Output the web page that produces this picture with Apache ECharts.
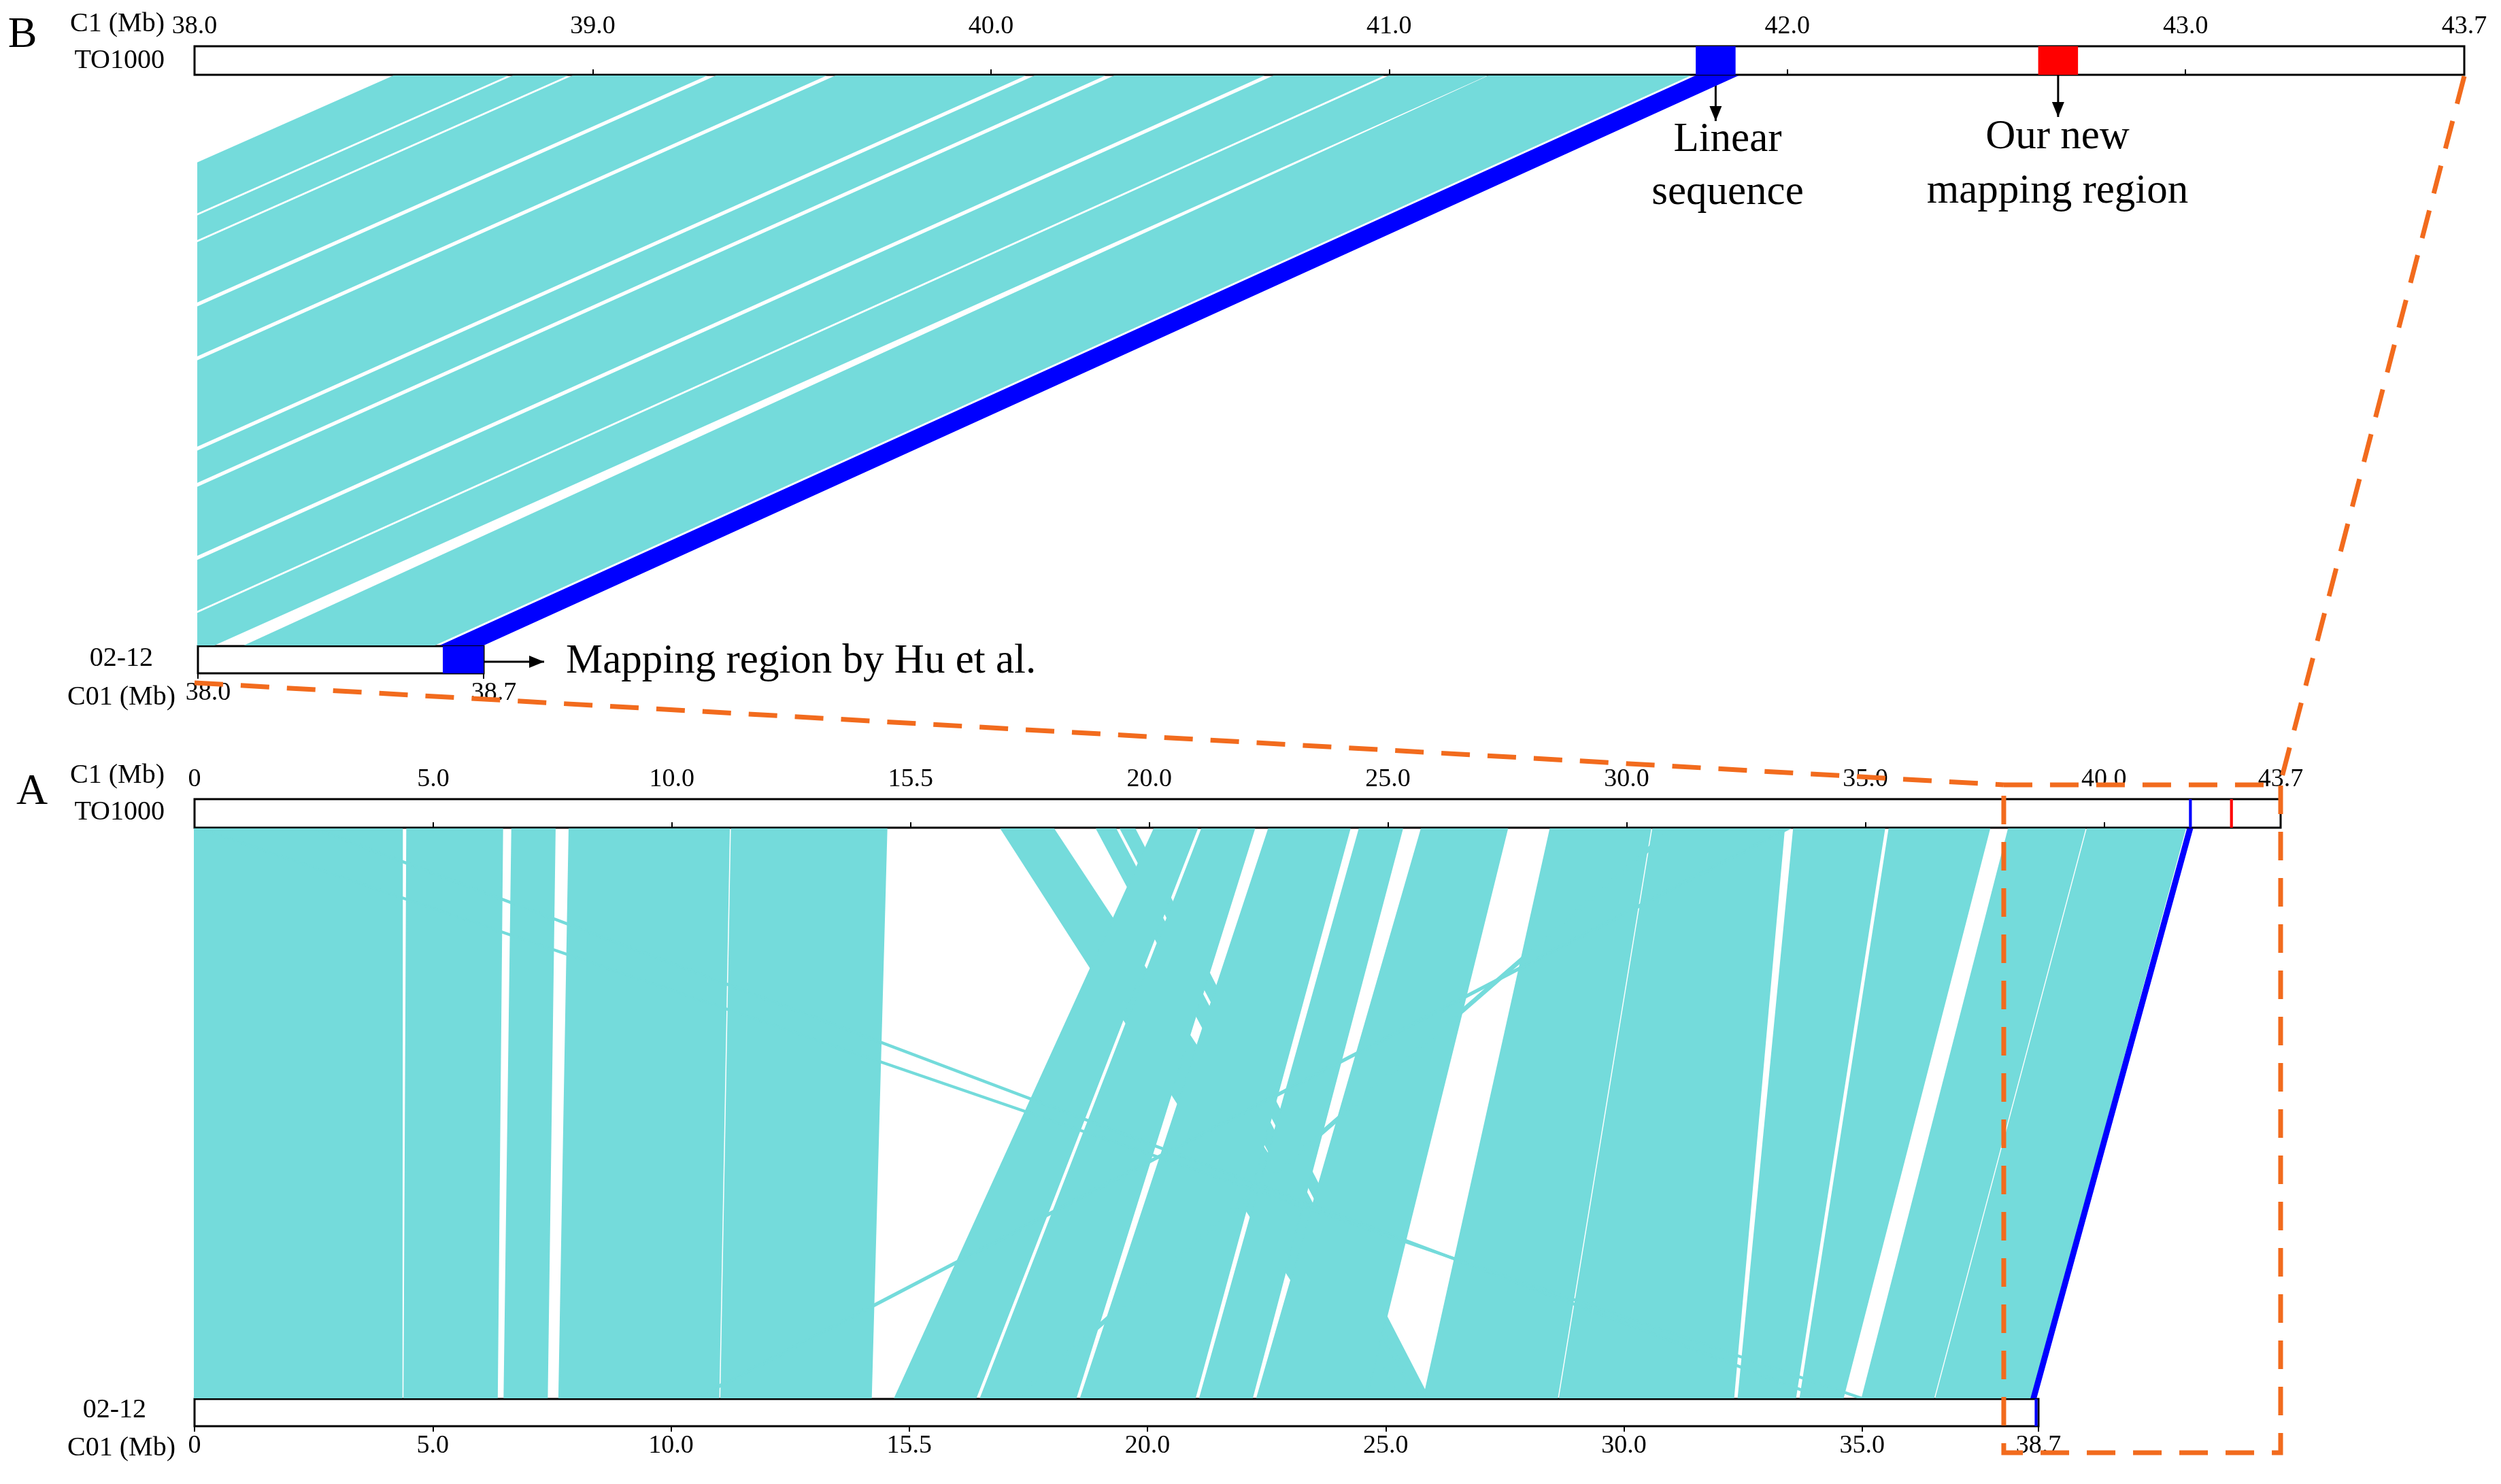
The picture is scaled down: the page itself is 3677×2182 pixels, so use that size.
<!DOCTYPE html>
<html><head><meta charset="utf-8">
<script src="https://cdn.jsdelivr.net/npm/echarts@6/dist/echarts.min.js"></script>
<style>html,body{margin:0;padding:0;background:#fff}#main{width:3677px;height:2182px}</style>
</head><body><div id="main"></div>
<script>
var myChart = echarts.init(document.getElementById('main'));
var FONT = 'Liberation Serif';
var CYAN = '#74dbdb', BLUE = '#0000ff', RED = '#ff0000', ORANGE = '#f26b1d';

// panel B links: [top start, top end, bottom start, bottom end] (Mb)
var linksB = [
  [38.50,38.78,35.33,35.61],[38.80,38.93,35.63,35.76],[38.95,39.28,35.78,36.11],
  [39.31,39.58,36.14,36.41],[39.61,40.08,36.44,36.91],[40.11,40.28,36.94,37.11],
  [40.31,40.68,37.14,37.51],[40.71,40.98,37.54,37.81],[41.00,41.24,37.83,38.04],
  [41.25,41.75,38.12,38.58]
];
// panel A links
var linksA = [
  [0,4.35,0,4.35],[4.45,6.45,4.4,6.35],[6.65,7.55,6.5,7.4],[7.85,11.2,7.65,11.0],
  [11.25,14.5,11.05,14.2],
  [16.9,18.0,24.6,25.9],[18.9,19.3,25.3,25.6],[19.4,19.7,25.7,25.9],
  [20.1,21.0,14.7,16.4],[21.1,22.2,16.5,18.5],[22.5,24.2,18.6,21.0],[24.4,25.3,21.1,22.2],
  [25.7,27.5,22.3,24.6],[28.4,30.5,25.8,28.6],[30.55,33.3,28.65,32.3],
  [33.5,35.4,32.4,33.6],[35.5,37.6,33.7,34.6],[38.0,39.6,35.0,36.5],[39.65,41.7,36.55,38.55],
  [2.5,2.6,34.1,34.2],[0.1,0.2,34.9,35.0],[33.3,33.4,10.5,10.6],[30.9,31.0,17.2,17.3]
];
var blueA = [41.75,41.85,38.55,38.65];
var blueB = [41.77,41.87,38.60,38.70];

function barAxis(grid, min, max, pos, labels) {
  return {
    type: 'value', gridIndex: grid, min: min, max: max, position: pos,
    axisLine: {show: false}, splitLine: {show: false},
    axisTick: {show: true, length: 8, customValues: labels, lineStyle: {color: '#000', width: 2}},
    axisLabel: {
      customValues: labels, fontFamily: FONT, fontSize: 38, color: '#000', margin: 10,
      formatter: function (v) { return v === 0 ? '0' : (v === 15 ? '15.5' : v.toFixed(1)); }
    }
  };
}
function gridOf(l, t, w, h) {
  return {left: l, top: t, width: w, height: h, show: true, backgroundColor: '#fff', borderColor: '#000', borderWidth: 3};
}
function marks(grid, arr) {
  return {
    type: 'custom', xAxisIndex: grid, yAxisIndex: grid, z: 5, data: arr,
    renderItem: function (params, api) {
      var p1 = api.coord([api.value(0), 1]), p2 = api.coord([api.value(1), 0]);
      return {type: 'rect', shape: {x: p1[0], y: p1[1], width: p2[0] - p1[0], height: p2[1] - p1[1]},
        style: {fill: api.value(2) === 1 ? RED : BLUE}};
    }
  };
}

var axB1 = barAxis(1, 38, 38.7, 'bottom', [38, 38.7]);
axB1.axisLabel.padding = [0, 0, 0, 30];
var option = {
  backgroundColor: '#fff',
  animation: false,
  grid: [gridOf(286, 68, 3337, 42), gridOf(291, 950, 420, 40), gridOf(286, 1175, 3067, 42), gridOf(286, 2057, 2711, 40)],
  xAxis: [
    barAxis(0, 38, 43.7, 'top', [38, 39, 40, 41, 42, 43, 43.7]),
    axB1,
    barAxis(2, 0, 43.7, 'top', [0, 5, 10, 15, 20, 25, 30, 35, 40, 43.7]),
    barAxis(3, 0, 38.7, 'bottom', [0, 5, 10, 15, 20, 25, 30, 35, 38.7])
  ],
  yAxis: [0, 1, 2, 3].map(function (i) { return {type: 'value', gridIndex: i, min: 0, max: 1, show: false}; }),
  series: [
    marks(0, [[41.77, 41.87, 0], [42.63, 42.73, 1]]),
    marks(1, [[38.60, 38.70, 0]]),
    marks(2, [[41.78, 41.84, 0], [42.64, 42.70, 1]]),
    marks(3, [[38.62, 38.68, 0]])
  ]
};
myChart.setOption(option);

// links between two bars, through the axes of the chart
function px(grid, v) { return myChart.convertToPixel({xAxisIndex: grid}, v); }
var gr = option.grid;
function clipLeft(pts, x0) {
  var out = [];
  for (var i = 0; i < pts.length; i++) {
    var a = pts[i], b = pts[(i + 1) % pts.length];
    var ain = a[0] >= x0, bin = b[0] >= x0;
    if (ain) out.push(a);
    if (ain !== bin) {
      var t = (x0 - a[0]) / (b[0] - a[0]);
      out.push([x0, a[1] + t * (b[1] - a[1])]);
    }
  }
  return out;
}
function linkSeries(top, bot, arr, color, clip) {
  var yT = gr[top].top + gr[top].height + 2, yB = gr[bot].top - 2;
  return {
    type: 'custom', coordinateSystem: 'none', z: 2, data: arr,
    renderItem: function (params, api) {
      var d = arr[params.dataIndex];
      var pts = [[px(top, d[0]), yT], [px(top, d[1]), yT], [px(bot, d[3]), yB], [px(bot, d[2]), yB]];
      if (clip) pts = clipLeft(pts, gr[bot].left);
      return {type: 'polygon', shape: {points: pts}, style: {fill: color, stroke: color, lineWidth: 2}};
    }
  };
}
var a0 = px(2, 37.9), a1 = px(2, 43.7);
var dash = {stroke: ORANGE, lineWidth: 7, lineDash: [42, 26]};
function txt(x, y, s, size, align) {
  return {type: 'text', x: x, y: y, style: {text: s, fontFamily: FONT, fontSize: size, fill: '#000', align: align || 'right', verticalAlign: 'middle'}};
}
function arrow(x1, y1, x2, y2) {
  var ang = Math.atan2(y2 - y1, x2 - x1), L = 22, W = 9;
  return [
    {type: 'line', shape: {x1: x1, y1: y1, x2: x2, y2: y2}, style: {stroke: '#000', lineWidth: 3}},
    {type: 'polygon', shape: {points: [[x2, y2],
      [x2 - L * Math.cos(ang) + W * Math.sin(ang), y2 - L * Math.sin(ang) - W * Math.cos(ang)],
      [x2 - L * Math.cos(ang) - W * Math.sin(ang), y2 - L * Math.sin(ang) + W * Math.cos(ang)]]}, style: {fill: '#000'}}
  ];
}
var xLin = px(0, 41.82), xNew = px(0, 42.68);
myChart.setOption({
  series: option.series.concat([
    linkSeries(0, 1, linksB, CYAN, true),
    linkSeries(0, 1, [blueB], BLUE, false),
    linkSeries(2, 3, linksA, CYAN, false),
    linkSeries(2, 3, [blueA], BLUE, false)
  ]),
  graphic: [
    txt(33, 52, 'B', 64, 'center'), txt(47, 1165, 'A', 64, 'center'),
    txt(242, 35, 'C1 (Mb)', 40), txt(242, 89, 'TO1000', 40),
    txt(225, 968, '02-12', 40), txt(258, 1025, 'C01 (Mb)', 40),
    txt(242, 1140, 'C1 (Mb)', 40), txt(242, 1194, 'TO1000', 40),
    txt(215, 2073, '02-12', 40), txt(258, 2129, 'C01 (Mb)', 40),
    txt(2540, 206, 'Linear', 61, 'center'), txt(2540, 284, 'sequence', 61, 'center'),
    txt(3025, 202, 'Our new', 61, 'center'), txt(3025, 282, 'mapping region', 61, 'center'),
    txt(832, 973, 'Mapping region by Hu et al.', 61, 'left'),
    {type: 'line', z: 10, shape: {x1: 286, y1: 1004, x2: a0, y2: 1154}, style: dash},
    {type: 'line', z: 10, shape: {x1: 3623, y1: 112, x2: a1, y2: 1150}, style: dash},
    {type: 'rect', z: 10, shape: {x: a0, y: 1154, width: a1 - a0, height: 2136 - 1154}, style: {fill: 'none', stroke: ORANGE, lineWidth: 7, lineDash: [42, 26]}}
  ].concat(arrow(xLin, 110, xLin, 178), arrow(xNew, 110, xNew, 172), arrow(711, 973, 800, 973))
});
</script></body></html>
